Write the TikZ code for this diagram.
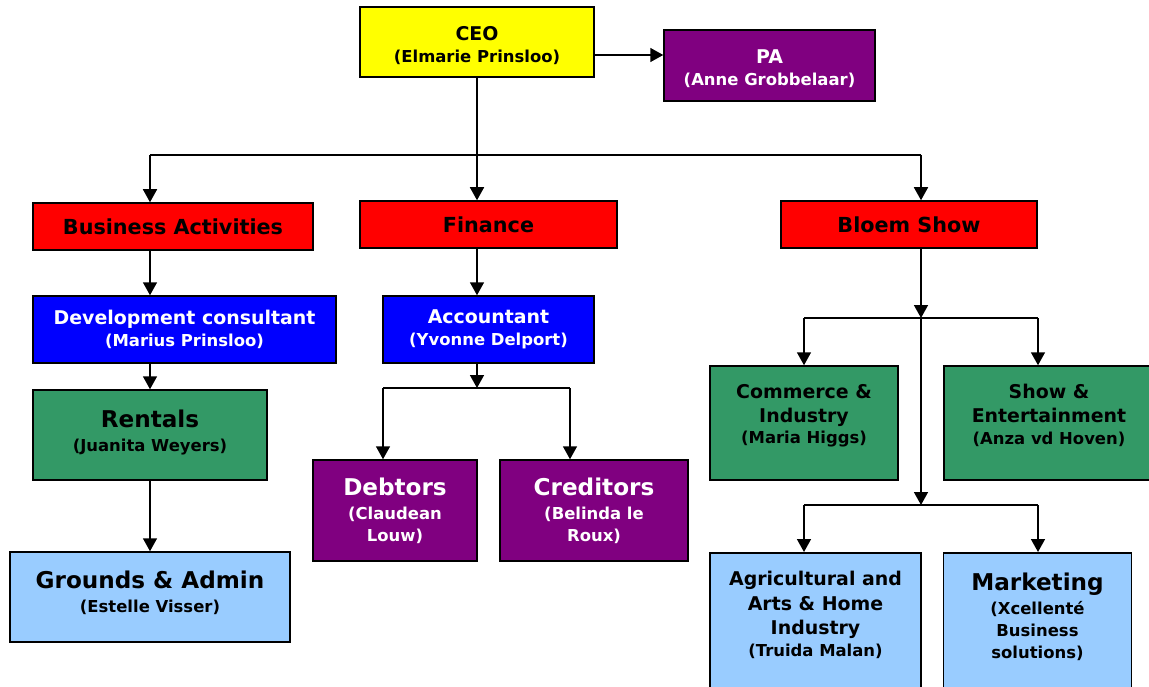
\documentclass[tikz,border=0pt]{standalone}
\usepackage{fontspec}
\setmainfont{DejaVu Sans}
\usepackage{tikz}
\usetikzlibrary{arrows.meta}

\definecolor{ceoyellow}{HTML}{FFFF00}
\definecolor{deptred}{HTML}{FF0000}
\definecolor{staffblue}{HTML}{0000FF}
\definecolor{unitgreen}{HTML}{339966}
\definecolor{paleblue}{HTML}{99CCFF}
\definecolor{plum}{HTML}{800080}

\newcommand{\role}[1]{{\fontsize{19}{23}\selectfont #1}}
\newcommand{\deptrole}[1]{{\fontsize{20.8}{24}\selectfont #1}}
\newcommand{\bigrole}[1]{{\fontsize{23.2}{27}\selectfont #1}}

\tikzset{orgbox/.style = {draw, line width=1.5bp, align=center, inner sep=2bp,
                          font=\bfseries\fontsize{16.5}{22}\selectfont},
         boxsize/.style 2 args = {minimum width=#1bp, minimum height=#2bp},
         wire/.style = {line width=1.6bp},
         link/.style = {wire, -{Triangle[length=13bp,width=14bp]}}}

\begin{document}
\begin{tikzpicture}[x=1bp, y=-1bp]
  \useasboundingbox (0,0) rectangle (1149,687);
  \clip (0,0) rectangle (1149,687);

  % top
  \node [orgbox, fill=ceoyellow, boxsize={234}{70}] (ceo) at (477,42)
        {\rule{0pt}{21bp}\role{CEO}\\(Elmarie Prinsloo)};
  \node [orgbox, fill=plum, text=white, boxsize={211}{71}] (pa) at (769.5,65.5)
        {\rule{0pt}{21bp}\role{PA}\\(Anne Grobbelaar)};

  % departments
  \node [orgbox, fill=deptred, boxsize={280}{47}] (busact) at (173,226.5) {\deptrole{Business Activities}};
  \node [orgbox, fill=deptred, boxsize={257}{47}] (finance) at (488.5,224.5) {\deptrole{Finance}};
  \node [orgbox, fill=deptred, boxsize={256}{47}] (bloem) at (909,224.5) {\deptrole{Bloem Show}};

  % business activities
  \node [orgbox, fill=staffblue, text=white, boxsize={303}{67}] (devcons) at (184.5,329.5)
        {\role{Development consultant}\\(Marius Prinsloo)};
  \node [orgbox, fill=unitgreen, boxsize={234}{90}] (rentals) at (150,435)
        {\bigrole{Rentals}\\[2bp](Juanita Weyers)\rule[-9bp]{0pt}{0pt}};
  \node [orgbox, fill=paleblue, boxsize={280}{90}] (grounds) at (150,597)
        {\bigrole{Grounds \& Admin}\\[2bp](Estelle Visser)\rule[-10bp]{0pt}{0pt}};

  % finance
  \node [orgbox, fill=staffblue, text=white, boxsize={211}{67}] (accountant) at (488.5,329.5)
        {\role{Accountant}\\(Yvonne Delport)};
  \node [orgbox, fill=plum, text=white, boxsize={164}{101}] (debtors) at (395,510.5)
        {\bigrole{Debtors}\\[2bp](Claudean\\Louw)};
  \node [orgbox, fill=plum, text=white, boxsize={188}{101}] (creditors) at (594,510.5)
        {\bigrole{Creditors}\\[2bp](Belinda le\\Roux)};

  % bloem show
  \node [orgbox, fill=unitgreen, boxsize={188}{114}] (commerce) at (804,423)
        {\role{Commerce \&}\\[2bp]\role{Industry}\\(Maria Higgs)\rule[-18bp]{0pt}{0pt}};
  \node [orgbox, fill=unitgreen, boxsize={210}{114}] (showent) at (1049,423)
        {\role{Show \&}\\[2bp]\role{Entertainment}\\(Anza vd Hoven)\rule[-18bp]{0pt}{0pt}};
  \node [orgbox, fill=paleblue, anchor=north, minimum width=211bp, inner ysep=18bp] (agri) at (815.5,552)
        {\role{Agricultural and}\\[3bp]\role{Arts \& Home}\\[3bp]\role{Industry}\\(Truida Malan)\rule[-60bp]{0pt}{0pt}};
  \node [orgbox, fill=paleblue, anchor=north, minimum width=188bp, inner ysep=20bp] (marketing) at (1037.5,552)
        {\bigrole{Marketing}\\[2bp](Xcellenté\\Business\\solutions)\rule[-60bp]{0pt}{0pt}};

  % junction points
  \coordinate (split) at (477,155);
  \coordinate (leftend) at (150,155);
  \coordinate (rightend) at (921,155);
  \coordinate (finfork) at (477,388);
  \coordinate (debtin) at (383,388);
  \coordinate (credin) at (570,388);
  \coordinate (showfork) at (921,318);
  \coordinate (comin) at (804,318);
  \coordinate (entin) at (1038,318);
  \coordinate (lowfork) at (921,505);
  \coordinate (agrin) at (804,505);
  \coordinate (mktin) at (1038,505);

  % connectors
  \draw [link] ([yshift=-13bp]ceo.east) -- ([yshift=-13bp]ceo.east -| pa.west);
  \draw [wire] (ceo.south) -- (split);
  \draw [wire] (leftend) -- (rightend);
  \draw [link] (leftend) -- (leftend |- busact.north);
  \draw [link] (split) -- (split |- finance.north);
  \draw [link] (rightend) -- (rightend |- bloem.north);

  \draw [link] (leftend |- busact.south) -- (leftend |- devcons.north);
  \draw [link] (leftend |- devcons.south) -- (rentals.north);
  \draw [link] (rentals.south) -- (grounds.north);

  \draw [link] (split |- finance.south) -- (split |- accountant.north);
  \draw [link] (split |- accountant.south) -- (finfork);
  \draw [wire] (debtin) -- (credin);
  \draw [link] (debtin) -- (debtin |- debtors.north);
  \draw [link] (credin) -- (credin |- creditors.north);

  \draw [link] (rightend |- bloem.south) -- (showfork);
  \draw [wire] (comin) -- (entin);
  \draw [link] (comin) -- (comin |- commerce.north);
  \draw [link] (entin) -- (entin |- showent.north);
  \draw [link] (showfork) -- (lowfork);
  \draw [wire] (agrin) -- (mktin);
  \draw [link] (agrin) -- (agrin |- agri.north);
  \draw [link] (mktin) -- (mktin |- marketing.north);
\end{tikzpicture}
\end{document}
